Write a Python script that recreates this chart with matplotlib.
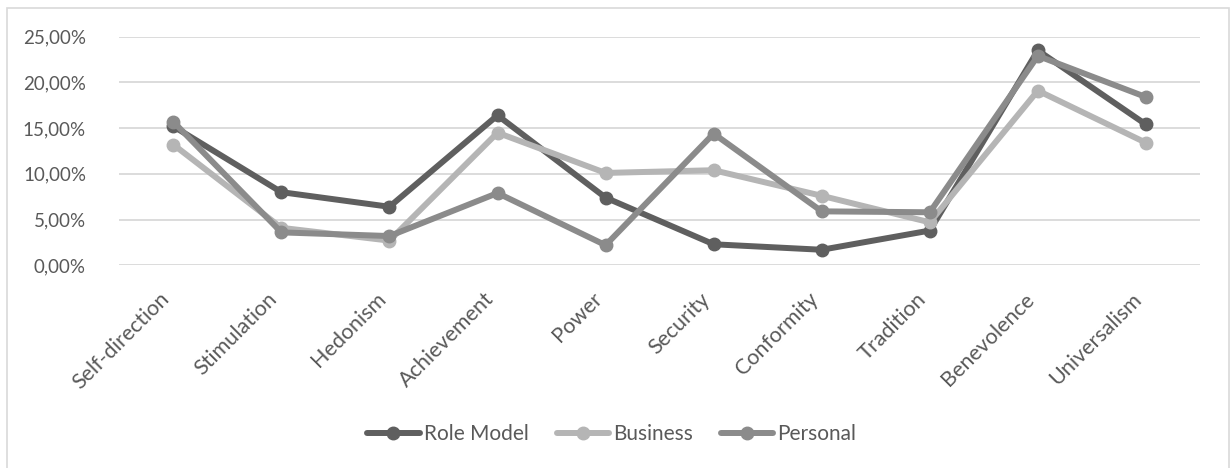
import matplotlib.pyplot as plt
from matplotlib.patches import Rectangle
from matplotlib.ticker import FuncFormatter
from matplotlib.transforms import ScaledTranslation

categories = ['Self-direction', 'Stimulation', 'Hedonism', 'Achievement', 'Power',
              'Security', 'Conformity', 'Tradition', 'Benevolence', 'Universalism']
role_model = [15.2, 8.0, 6.4, 16.4, 7.4, 2.3, 1.7, 3.8, 23.5, 15.4]
business = [13.2, 4.1, 2.7, 14.5, 10.1, 10.4, 7.6, 4.7, 19.1, 13.4]
personal = [15.7, 3.6, 3.2, 7.9, 2.2, 14.4, 5.9, 5.8, 22.9, 18.4]

series = [('Role Model', role_model, '#5f5f5f'),
          ('Business', business, '#b5b5b5'),
          ('Personal', personal, '#8b8b8b')]

plt.rcParams['font.family'] = ['Lato', 'DejaVu Sans']
text_col = '#595959'

fig = plt.figure(figsize=(12.31, 4.68), dpi=100)
ax = fig.add_axes([0.0969, 0.4331, 0.8779, 0.4885])

# chart area frame
fig.patches.append(Rectangle((7 / 1231, -0.05), 1222 / 1231, 1.05 - 8 / 468,
                             transform=fig.transFigure, fill=False,
                             edgecolor='#d9d9d9', linewidth=1.2))

x = range(len(categories))
for name, vals, col in series:
    ax.plot(x, vals, color=col, linewidth=4.3, marker='o', markersize=9,
            label=name, solid_capstyle='round', zorder=3)

ax.set_xlim(-0.5, len(categories) - 0.5)
ax.set_ylim(0, 25)
ax.set_yticks([0, 5, 10, 15, 20, 25])
ax.yaxis.set_major_formatter(FuncFormatter(lambda v, p: f'{v:.2f}%'.replace('.', ',')))
ax.set_xticks(list(x))
ax.set_xticklabels(categories, rotation=45, ha='right', va='top', fontsize=15.5)
shift = ScaledTranslation(5 / 100, 0, fig.dpi_scale_trans)
for lab in ax.get_xticklabels():
    lab.set_transform(lab.get_transform() + shift)

ax.grid(axis='y', color='#d9d9d9', linewidth=1.3, zorder=0)
for s in ax.spines.values():
    s.set_visible(False)
ax.tick_params(axis='both', length=0, colors=text_col)
ax.tick_params(axis='y', labelsize=13.5, pad=24)
ax.tick_params(axis='x', pad=17)

leg = fig.legend(loc='center', bbox_to_anchor=(0.497, 1 - 434 / 468), ncol=3,
                 frameon=False, fontsize=15, handlelength=2.5,
                 handletextpad=0.2, columnspacing=1.35)
for t in leg.get_texts():
    t.set_color(text_col)

fig.savefig('out.png', dpi=100)
